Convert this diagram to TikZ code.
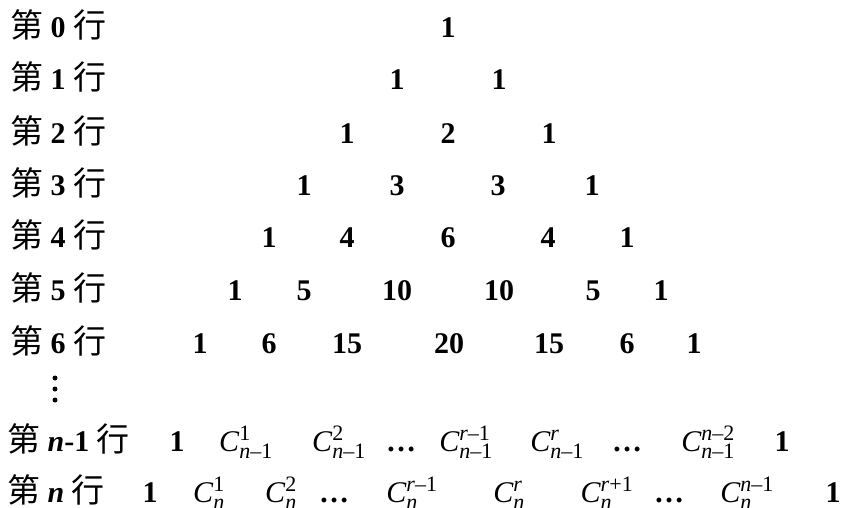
\RequirePackage{fix-cm}
\documentclass[tikz,border=0pt]{standalone}
\usepackage{fontspec}
\setmainfont{Liberation Serif}
\newfontfamily\cjk{Noto Sans CJK SC}[Scale=1.1]
\usepackage{tikz}
\usetikzlibrary{positioning}
\newcommand\bigtxt{\fontsize{30}{36}\selectfont}
\newcommand\sz[1]{\mbox{\fontsize{22}{22}\selectfont#1}}
\newcommand\cnk[2]{$\mathit{C}^{\sz{#1}}_{\sz{#2}}$}

\begin{document}
\begin{tikzpicture}[x=1pt, y=-1pt,
  num/.style={inner sep=0pt, anchor=base, font=\bigtxt\bfseries},
  cterm/.style={inner sep=0pt, anchor=base, font=\bigtxt},
  rowlbl/.style={inner sep=0pt, anchor=base west, font=\bigtxt\bfseries},
  vdot/.style={circle, fill, inner sep=0pt, minimum size=5pt}
]
  \useasboundingbox (0,0) rectangle (846,508);

  % row labels
  \node[rowlbl] (l0) at (10, 38) {{\cjk\mdseries 第} 0 {\cjk\mdseries 行}};
  \node[rowlbl] (l1) at (10, 90) {{\cjk\mdseries 第} 1 {\cjk\mdseries 行}};
  \node[rowlbl] (l2) at (10, 143) {{\cjk\mdseries 第} 2 {\cjk\mdseries 行}};
  \node[rowlbl] (l3) at (10, 195) {{\cjk\mdseries 第} 3 {\cjk\mdseries 行}};
  \node[rowlbl] (l4) at (10, 247) {{\cjk\mdseries 第} 4 {\cjk\mdseries 行}};
  \node[rowlbl] (l5) at (10, 300) {{\cjk\mdseries 第} 5 {\cjk\mdseries 行}};
  \node[rowlbl] (l6) at (10, 353) {{\cjk\mdseries 第} 6 {\cjk\mdseries 行}};
  \node[vdot] (vd1) at (55, 378) {};
  \node[vdot] (vd2) at (55, 389) {};
  \node[vdot] (vd3) at (55, 400) {};
  \node[rowlbl] (ln1) at (7, 451) {{\cjk\mdseries 第} \textit{n}-1 {\cjk\mdseries 行}};
  \node[rowlbl] (ln) at (7, 502) {{\cjk\mdseries 第} \textit{n} {\cjk\mdseries 行}};

  % rows 0 to 6
  \node[num] (a00) at (448, 38) {1};

  \node[num] (a10) at (397, 90) {1};
  \node[num] (a11) at (499, 90) {1};

  \node[num] (a20) at (347, 143) {1};
  \node[num] (a21) at (448, 143) {2};
  \node[num] (a22) at (549, 143) {1};

  \node[num] (a30) at (304, 195) {1};
  \node[num] (a31) at (397, 195) {3};
  \node[num] (a32) at (498, 195) {3};
  \node[num] (a33) at (592, 195) {1};

  \node[num] (a40) at (269, 247) {1};
  \node[num] (a41) at (347, 247) {4};
  \node[num] (a42) at (448, 247) {6};
  \node[num] (a43) at (548, 247) {4};
  \node[num] (a44) at (627, 247) {1};

  \node[num] (a50) at (235, 300) {1};
  \node[num] (a51) at (304, 300) {5};
  \node[num] (a52) at (397, 300) {10};
  \node[num] (a53) at (499, 300) {10};
  \node[num] (a54) at (593, 300) {5};
  \node[num] (a55) at (661, 300) {1};

  \node[num] (a60) at (200, 353) {1};
  \node[num] (a61) at (269, 353) {6};
  \node[num] (a62) at (347, 353) {15};
  \node[num] (a63) at (449, 353) {20};
  \node[num] (a64) at (549, 353) {15};
  \node[num] (a65) at (627, 353) {6};
  \node[num] (a66) at (694, 353) {1};

  % row n-1
  \node[num] (p0) at (177, 451) {1};
  \node[cterm] (p1) at (246, 451) {\cnk{1}{\textit{n}–1}};
  \node[cterm] (p2) at (339, 451) {\cnk{2}{\textit{n}–1}};
  \node[num] (pd1) at (401, 451) {…};
  \node[cterm] (pr1) at (466, 451) {\cnk{\textit{r}–1}{\textit{n}–1}};
  \node[cterm] (pr) at (557, 451) {\cnk{\textit{r}}{\textit{n}–1}};
  \node[num] (pd2) at (627, 451) {…};
  \node[cterm] (pn2) at (708, 451) {\cnk{\textit{n}–2}{\textit{n}–1}};
  \node[num] (pend) at (782, 451) {1};

  % row n
  \node[num] (q0) at (150, 502) {1};
  \node[cterm] (q1) at (209, 502) {\cnk{1}{\textit{n}}};
  \node[cterm] (q2) at (281, 502) {\cnk{2}{\textit{n}}};
  \node[num] (qd1) at (334, 502) {…};
  \node[cterm] (qr1) at (412, 502) {\cnk{\textit{r}–1}{\textit{n}}};
  \node[cterm] (qr) at (509, 502) {\cnk{\textit{r}}{\textit{n}}};
  \node[cterm] (qr2) at (607, 502) {\cnk{\textit{r}+1}{\textit{n}}};
  \node[num] (qd2) at (669, 502) {…};
  \node[cterm] (qn1) at (747, 502) {\cnk{\textit{n}–1}{\textit{n}}};
  \node[num] (qend) at (833, 502) {1};
\end{tikzpicture}
\end{document}
